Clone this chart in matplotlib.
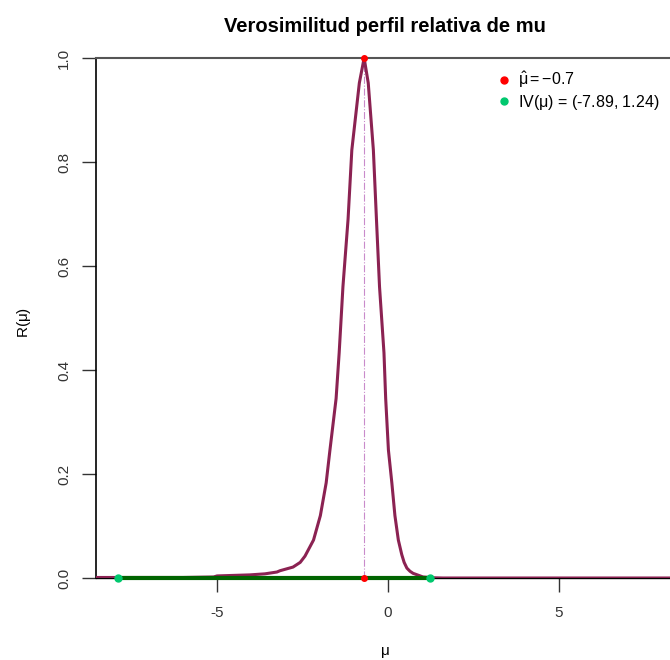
import matplotlib
matplotlib.use('Agg')
import matplotlib.pyplot as plt
from matplotlib.lines import Line2D

plt.rcParams['font.family'] = ['Liberation Sans', 'DejaVu Sans']
plt.rcParams['mathtext.fontset'] = 'custom'
plt.rcParams['mathtext.rm'] = 'Liberation Sans'
plt.rcParams['mathtext.it'] = 'Liberation Sans'

# profile relative likelihood
mu = [-8.54, -7.0, -6.0, -5.1, -5.0, -4.04, -3.6, -3.25, -3.16, -2.78, -2.57,
      -2.43, -2.18, -1.98, -1.81, -1.70, -1.52, -1.43, -1.32, -1.17, -1.06,
      -0.84, -0.70, -0.58, -0.43, -0.34, -0.25, -0.12, -0.07, 0.01, 0.11,
      0.20, 0.30, 0.40, 0.47, 0.55, 0.64, 0.73, 0.94, 1.02, 1.3, 1.6, 3.0,
      5.0, 8.4]
R = [0.001, 0.001, 0.001, 0.002, 0.004, 0.006, 0.008, 0.0115, 0.014, 0.021,
     0.030, 0.042, 0.073, 0.12, 0.183, 0.246, 0.345, 0.433, 0.56, 0.69,
     0.823, 0.952, 1.0, 0.952, 0.823, 0.69, 0.56, 0.433, 0.345, 0.246,
     0.183, 0.12, 0.073, 0.045, 0.030, 0.019, 0.013, 0.009, 0.004, 0.002,
     0.0005, 0.0, 0.0, 0.0, 0.0]

mu_hat = -0.7
iv = [-7.89, 1.24]

fig = plt.figure(figsize=(6.7, 6.6), dpi=100)
ax = fig.add_axes([96 / 670, 82 / 660, 578 / 670, 520 / 660])

ax.plot(mu, R, color='#8B2252', lw=2.2, zorder=3)
ax.plot([mu_hat, mu_hat], [0, 1], color='#C98BCB', lw=0.8, ls='-.', zorder=2)
ax.plot(iv, [0, 0], color='#006400', lw=3, zorder=4, clip_on=False)
ax.plot([mu_hat, mu_hat], [1, 0], 'o', color='red', ms=4, zorder=5, clip_on=False)
ax.plot(iv, [0, 0], 'o', color='#00C86E', ms=5, zorder=5, clip_on=False)

ax.set_xlim(-8.54, 8.36)
ax.set_ylim(0, 1)
ax.set_xticks([-5, 0, 5])
ax.set_xticklabels(['-5', '0', '5'])
ax.set_yticks([0, 0.2, 0.4, 0.6, 0.8, 1.0])
ax.set_yticklabels(['0.0', '0.2', '0.4', '0.6', '0.8', '1.0'], rotation=90, va='center')
ax.tick_params(axis='both', length=10, width=1, labelsize=11, colors='#333333', pad=8)
ax.tick_params(axis='x', pad=10)

ax.spines['right'].set_visible(False)
ax.spines['top'].set_color('#555555')
ax.spines['top'].set_linewidth(1.5)
ax.spines['left'].set_linewidth(1.2)
ax.spines['bottom'].set_linewidth(1.0)

fig.text(385 / 670, 1 - 32 / 660, 'Verosimilitud perfil relativa de mu',
         fontsize=14.5, fontweight='bold', ha='center', va='baseline')
ax.set_xlabel(r'$\mu$', fontsize=11, va='center')
ax.set_ylabel(r'R($\mu$)', fontsize=11, va='center')
ax.xaxis.set_label_coords((385 - 96) / 578, (578 - 652) / 520)
ax.yaxis.set_label_coords((24 - 96) / 578, (578 - 322) / 520)

handles = [Line2D([], [], ls='none', marker='o', color='red', ms=5),
           Line2D([], [], ls='none', marker='o', color='#00C86E', ms=5)]
labels = [r'$\hat{\mu} = -0.7$', r'IV($\mu$) = (-7.89, 1.24)']
ax.legend(handles, labels, loc='upper left', bbox_to_anchor=(490 / 670, 1 - 62 / 660),
          bbox_transform=fig.transFigure, frameon=False, fontsize=11.5,
          handlelength=0.8, handletextpad=0.45, borderpad=0, labelspacing=0.15)

fig.savefig('out.png', dpi=100)
